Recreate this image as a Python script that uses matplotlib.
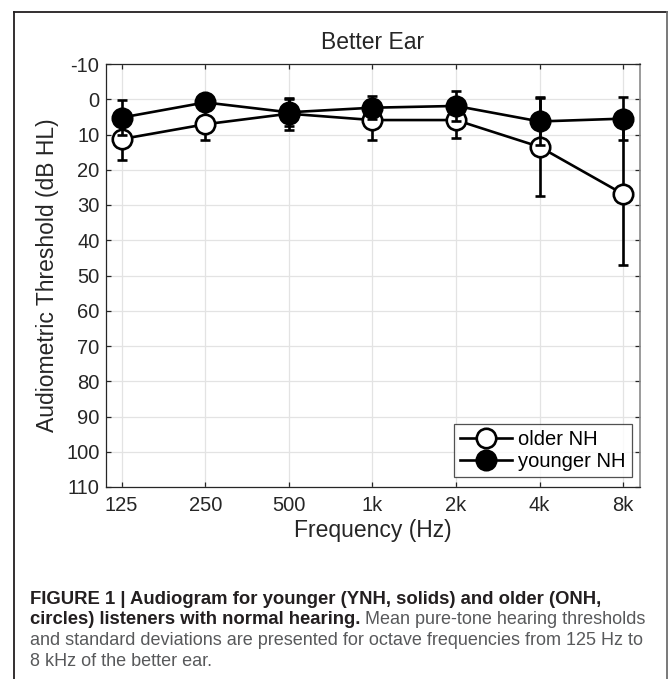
import matplotlib
matplotlib.use("Agg")
import matplotlib.pyplot as plt
from matplotlib.lines import Line2D
from matplotlib import font_manager as fm

# ---------------- data ----------------
freqs = [125, 250, 500, 1000, 2000, 4000, 8000]
freq_labels = ["125", "250", "500", "1k", "2k", "4k", "8k"]
older_mean = [11.3, 7.1, 4.1, 5.9, 5.9, 13.5, 26.9]
older_sd = [5.8, 4.5, 4.5, 5.6, 5.0, 14.0, 20.0]
younger_mean = [5.2, 0.9, 3.7, 2.4, 1.9, 6.3, 5.5]
younger_sd = [4.9, 1.5, 3.8, 3.3, 4.3, 6.6, 6.1]
yticks = list(range(-10, 111, 10))
series_labels = ["older NH", "younger NH"]
title = "Better Ear"
xlabel = "Frequency (Hz)"
ylabel = "Audiometric Threshold (dB HL)"
cap_bold_1 = "FIGURE 1 | Audiogram for younger (YNH, solids) and older (ONH,"
cap_bold_2 = "circles) listeners with normal hearing."
cap_norm_2 = " Mean pure-tone hearing thresholds"
cap_norm_3 = "and standard deviations are presented for octave frequencies from 125 Hz to"
cap_norm_4 = "8 kHz of the better ear."

FONT = "Liberation Sans"
plt.rcParams["font.family"] = [FONT, "DejaVu Sans"]
plt.rcParams["axes.unicode_minus"] = False

names = {f.name for f in fm.fontManager.ttflist}
CAPFONT = "Liberation Sans Narrow" if "Liberation Sans Narrow" in names else FONT

W, H = 672, 679
fig = plt.figure(figsize=(W / 100, H / 100), dpi=100)
fig.patch.set_facecolor("white")

# axes position in pixels
L, R, T, B = 105.7, 640.0, 64.0, 487.0
ax = fig.add_axes([L / W, 1 - B / H, (R - L) / W, (B - T) / H])

ax.set_xscale("log", base=2)
ax.set_xlim(109.5, 9200)
ax.set_ylim(110, -10)
ax.set_xticks(freqs)
ax.set_xticklabels(freq_labels)
ax.minorticks_off()
ax.set_yticks(yticks)
ax.grid(True, color="#e3e3e3", linewidth=0.9)
ax.set_axisbelow(True)

ax.tick_params(direction="in", length=3.6, width=0.9, top=True, right=True,
               labelsize=14.5, colors="#262626")
ax.tick_params(axis="x", pad=6.5)
ax.tick_params(axis="y", pad=4.5)
for s in ["left", "bottom", "top"]:
    ax.spines[s].set_color("#262626")
    ax.spines[s].set_linewidth(0.9)
ax.spines["right"].set_color("#8a8a8a")
ax.spines["right"].set_linewidth(1.2)

lw = 1.9
ms = 14
mew = 1.9
cs = 3.8
# older
ax.errorbar(freqs, older_mean, yerr=older_sd, fmt="none", ecolor="black",
            elinewidth=lw, capsize=cs, capthick=lw, zorder=3)
ax.plot(freqs, older_mean, "-o", color="black", lw=lw, ms=ms, mfc="white",
        mec="black", mew=mew, zorder=4)
# younger
ax.errorbar(freqs, younger_mean, yerr=younger_sd, fmt="none", ecolor="black",
            elinewidth=lw, capsize=cs, capthick=lw, zorder=5)
ax.plot(freqs, younger_mean, "-o", color="black", lw=lw, ms=ms, mfc="black",
        mec="black", mew=mew, zorder=6)

h1 = Line2D([], [], color="black", lw=lw, marker="o", ms=ms, mfc="white", mec="black", mew=mew)
h2 = Line2D([], [], color="black", lw=lw, marker="o", ms=ms, mfc="black", mec="black", mew=mew)
leg = ax.legend([h1, h2], series_labels, loc="lower right",
                bbox_to_anchor=(0.985, 0.023), borderaxespad=0, fontsize=14.5,
                frameon=True, fancybox=False, edgecolor="#262626",
                handlelength=2.6, handletextpad=0.3, borderpad=0.3,
                labelspacing=0.15)
leg.get_frame().set_linewidth(0.9)

ax.set_title(title, fontsize=16.5, pad=11, color="#262626")
ax.set_xlabel(xlabel, fontsize=16.5, color="#262626", labelpad=3)
ax.set_ylabel(ylabel, fontsize=16.5, color="#262626", labelpad=5)

# outer frame
fx0, fx1, fy0 = 13.5 / W, 667 / W, 1 - 12 / H
fig.add_artist(Line2D([fx0, fx0], [-0.01, fy0], color="#231f20", lw=1.3, transform=fig.transFigure))
fig.add_artist(Line2D([fx0, fx1], [fy0, fy0], color="#231f20", lw=1.3, transform=fig.transFigure))
fig.add_artist(Line2D([fx1, fx1], [-0.01, fy0], color="#6e6e6e", lw=1.3, transform=fig.transFigure))

# caption
cx = 30 / W
bold_col = "#231f20"
norm_col = "#58595b"
renderer = fig.canvas.get_renderer()

def fit_size(text, weight, target_px, start=12.0):
    t = fig.text(0, 0, text, fontsize=start, fontweight=weight, family=CAPFONT)
    w = t.get_window_extent(renderer).width
    t.remove()
    return start * target_px / w

bsize = fit_size(cap_bold_1, "bold", 570)
nsize = fit_size(cap_norm_3, "normal", 616)

base = [604, 624.5, 645, 665.5]
t1 = fig.text(cx, 1 - base[0] / H, cap_bold_1, fontsize=bsize, fontweight="bold",
              color=bold_col, va="baseline", family=CAPFONT)
t2 = fig.text(cx, 1 - base[1] / H, cap_bold_2, fontsize=bsize, fontweight="bold",
              color=bold_col, va="baseline", family=CAPFONT)
fig.canvas.draw()
bb = t2.get_window_extent(renderer)
fig.text(bb.x1 / W, 1 - base[1] / H, cap_norm_2, fontsize=nsize, color=norm_col,
         va="baseline", family=CAPFONT)
fig.text(cx, 1 - base[2] / H, cap_norm_3, fontsize=nsize, color=norm_col, va="baseline",
         family=CAPFONT)
fig.text(cx, 1 - base[3] / H, cap_norm_4, fontsize=nsize, color=norm_col, va="baseline",
         family=CAPFONT)

fig.savefig("out.png", dpi=100, facecolor="white")
